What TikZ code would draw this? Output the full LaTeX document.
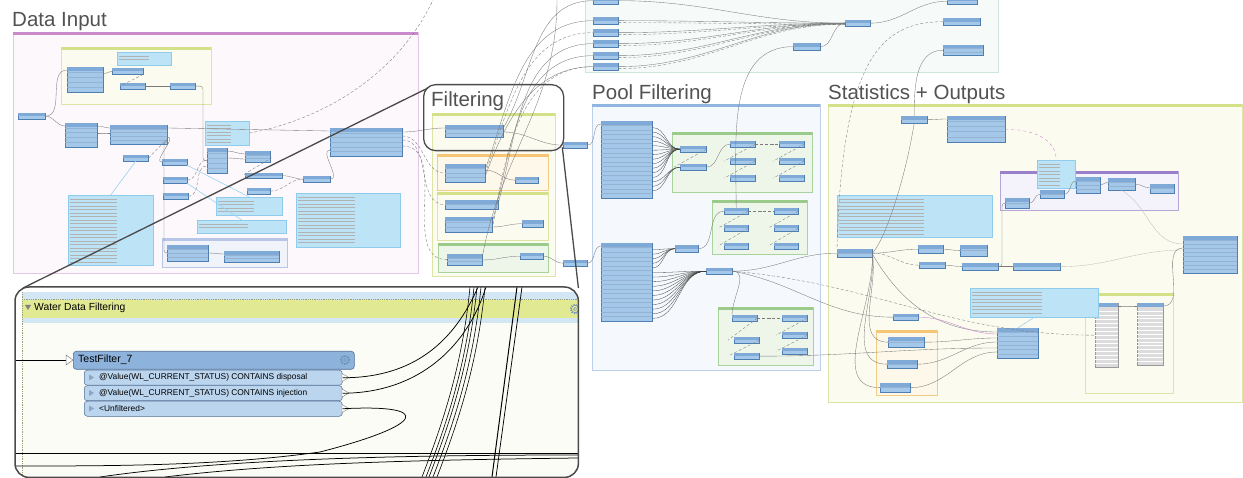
\documentclass[tikz,border=0pt]{standalone}
\usepackage{fontspec}
\setmainfont{Liberation Sans}
\usetikzlibrary{positioning}

\definecolor{titlegray}{HTML}{525252}
\definecolor{xfblue}{HTML}{A4C8EA}
\definecolor{xfhead}{HTML}{7FA9D6}
\definecolor{xfedge}{HTML}{4F7FB0}
\definecolor{notecol}{HTML}{BDE3F7}
\definecolor{noteedge}{HTML}{8FCBEA}
\definecolor{wiregray}{HTML}{7A7A7A}
\definecolor{pinkhead}{HTML}{C98BCB}
\definecolor{pinkfill}{HTML}{FCF8FC}
\definecolor{pinkedge}{HTML}{E6C6E6}
\definecolor{yghead}{HTML}{D3E288}
\definecolor{ygfill}{HTML}{FBFCEF}
\definecolor{ygedge}{HTML}{DCE5A6}
\definecolor{bluehead}{HTML}{8FB5E0}
\definecolor{bluefill}{HTML}{F5F8FC}
\definecolor{blueedge}{HTML}{BCD0EA}
\definecolor{grnhead}{HTML}{9ACB8A}
\definecolor{grnfill}{HTML}{EEF6EA}
\definecolor{grnedge}{HTML}{A9D39C}
\definecolor{purphead}{HTML}{9A7FCB}
\definecolor{purpfill}{HTML}{F4F2FA}
\definecolor{purpedge}{HTML}{B7A6DA}
\definecolor{orghead}{HTML}{F6C676}
\definecolor{orgfill}{HTML}{FDF8EA}
\definecolor{orgedge}{HTML}{F2CB85}
\definecolor{lavhead}{HTML}{B9C5E6}
\definecolor{lavfill}{HTML}{F1F3FA}
\definecolor{topfill}{HTML}{F6FBF9}
\definecolor{topedge}{HTML}{CDE6D8}
\definecolor{greybox}{HTML}{C4C4C4}
\definecolor{callframe}{HTML}{4A4A4A}
\definecolor{wdfhead}{HTML}{E1E993}
\definecolor{wdfstrip}{HTML}{D3E6F4}
\definecolor{wdfbody}{HTML}{FCFCF6}
\definecolor{tfhead}{HTML}{8DB3DD}
\definecolor{tfedge}{HTML}{4E6E96}
\definecolor{tfport}{HTML}{BBD5EE}
\definecolor{gearcol}{HTML}{6F8FB5}
\definecolor{magwire}{HTML}{D08AD6}
\definecolor{notewire}{HTML}{9DD3EE}

\tikzset{
  xf/.style={draw=xfedge, fill=xfblue, line width=0.35pt, inner sep=0pt, anchor=north west},
  xfline/.style={draw=xfedge!60, line width=0.3pt},
  note/.style={draw=noteedge, fill=notecol, line width=0.3pt, inner sep=0pt, anchor=north west},
  notetext/.style={draw=black!30, line width=0.25pt},
  wire/.style={draw=wiregray, line width=0.35pt},
  dwire/.style={wire, dash pattern=on 3pt off 2pt},
  fan/.style={draw=black!75, line width=0.3pt},
  pinkwire/.style={draw=magwire, line width=0.4pt},
  notelink/.style={draw=notewire, line width=0.6pt},
  bigwire/.style={draw=black, line width=0.75pt},
  title/.style={text=titlegray, font=\fontsize{20.5pt}{22pt}\selectfont, anchor=base west, inner sep=0pt},
  zoomline/.style={draw=callframe, line width=1.3pt},
  port/.style={draw=tfedge, fill=tfport, line width=0.5pt, rounded corners=3pt, inner sep=0pt, anchor=north west},
  porttext/.style={font=\fontsize{8.4pt}{9pt}\selectfont, anchor=west, inner sep=0pt},
}

% small transformer box: name, x, y, width, height
\newcommand{\xfb}[5]{%
  \node[xf, minimum width=#4pt, minimum height=#5pt] (#1) at (#2,#3) {};
  \pgfmathsetmacro{\hh}{min(#5/2,3.5)}%
  \fill[xfhead] (#2+0.3,#3+0.3) rectangle ++(#4-0.6,\hh);
}
% transformer with port rows
\newcommand{\xfm}[6]{%
  \xfb{#1}{#2}{#3}{#4}{#5}%
  \foreach \rr in {1,...,#6}{%
    \pgfmathsetmacro{\yy}{#3+#5*\rr/(#6+1)}%
    \draw[xfline] (#2,\yy) -- ++(#4,0);}%
}
% annotation
\newcommand{\fnote}[5]{%
  \node[note, minimum width=#4pt, minimum height=#5pt] (#1) at (#2,#3) {};
  \pgfmathtruncatemacro{\nl}{(#5-3)/3.5}%
  \foreach \rr in {1,...,\nl}{%
    \pgfmathsetmacro{\yy}{#3+0.5+\rr*3.5}%
    \draw[notetext] (#2+2,\yy) -- ++(0.55*#4,0);}%
}
% grey attribute list
\newcommand{\glist}[6]{%
  \node[draw=black!40, fill=greybox!60, line width=0.35pt, inner sep=0pt, anchor=north west,
        minimum width=#4pt, minimum height=#5pt] (#1) at (#2,#3) {};
  \fill[xfhead] (#2,#3) rectangle ++(#4,4);
  \foreach \rr in {1,...,#6}{%
    \pgfmathsetmacro{\yy}{#3+4+(#5-4)*\rr/(#6+1)}%
    \draw[white, line width=0.4pt] (#2,\yy) -- ++(#4,0);}%
}
% bookmark: x1, y1, x2, y2, header, fill, edge
\newcommand{\bmark}[7]{%
  \filldraw[fill=#6, draw=#7, line width=0.5pt] (#1,#2) rectangle (#3,#4);
  \fill[#5] (#1,#2) rectangle (#3,#2+3.5);
}
\newcommand{\gear}[2]{%
  \draw[gearcol, line width=1.1pt, dash pattern=on 1.2pt off 1.3pt] (#1,#2) circle (4.6pt);
  \draw[gearcol, line width=0.5pt] (#1,#2) circle (3.6pt);
  \draw[gearcol, line width=0.5pt] (#1,#2) circle (1.6pt);
}

\begin{document}
\begin{tikzpicture}[x=1pt, y=-1pt]
    \useasboundingbox (0,0) rectangle (1243,478);
    \fill[white] (0,0) rectangle (1243,478);

    % Top panel
    \filldraw[fill=topfill, draw=topedge, line width=0.6pt] (585,-5) rectangle (998,72);

    % Data Input
    \node[title] (tdata) at (12,27) {Data Input};
    \filldraw[fill=pinkfill, draw=pinkedge, line width=0.6pt] (13,32) rectangle (418,273);
    \fill[pinkhead] (13,32) rectangle (418,35.5);
    \bmark{61}{47}{211}{104}{yghead}{ygfill}{ygedge}
    \fnote{dn1}{117}{52}{54}{13}
    \xfb{di1}{18}{113}{27}{6}
    \xfm{di2}{67}{67}{36}{25}{4}
    \xfb{di3}{112}{68}{31}{6}
    \xfb{di4}{120}{83}{25}{6}
    \xfb{di5}{170}{83}{25}{6}
    \xfm{di6}{65}{123}{32}{24}{4}
    \xfm{di7}{110}{125}{57}{19}{4}
    \fnote{dn2}{205}{121}{44}{24}
    \xfb{di8}{123}{155}{25}{6}
    \xfb{di9}{162}{159}{25}{6}
    \xfb{di10}{163}{177}{24}{6}
    \xfb{di11}{163}{193}{25}{6}
    \xfm{di12}{207}{148}{20}{25}{4}
    \xfm{di13}{245}{151}{25}{11}{2}
    \xfb{di14}{245}{173}{37}{5}
    \xfb{di15}{247}{188}{23}{6}
    \xfb{di16}{303}{176}{27}{6}
    \xfm{di17}{330}{128}{72}{28}{5}
    \fnote{dn3}{68}{195}{85}{70}
    \fnote{dn4}{216}{197}{66}{18}
    \fnote{dn5}{197}{220}{89}{13}
    \fnote{dn6}{296}{193}{104}{54}
    \bmark{162}{238}{287}{267}{lavhead}{lavfill}{lavhead}
    \xfm{di18}{167}{245}{41}{16}{3}
    \xfm{di19}{224}{251}{55}{11}{2}
    \coordinate (topexit) at (433,0);
    \coordinate (topexitb) at (557,0);

    \draw[wire] (di1.east) to[out=0,in=180] ([yshift=-3pt]di2.north west);
    \draw[wire] (di1.east) to[out=0,in=180] ([yshift=-3pt]di6.north west);
    \draw[wire] ([yshift=-7pt]di2.north east) to[out=0,in=180] (di3.west);
    \draw[dwire] (di3.south east) -- (di4.west);
    \draw[wire] (di4.east) to[out=0,in=180] (di5.west);
    \draw[wire, rounded corners=3pt] (di5.east) -| ([xshift=-4pt]di12.west) -- (di12.west);
    \draw[wire] ([yshift=-3pt]di6.north east) to[out=0,in=180] ([yshift=-3pt]di7.north west);
    \draw[wire] ([yshift=-10pt]di6.north east) to[out=0,in=180] ([yshift=-8pt]di7.north west);
    \draw[wire] ([yshift=-3pt]di7.north east) -- ([yshift=-3pt]di17.north west);
    \draw[dwire] (di8.east) -- ([yshift=-14pt]di7.north east);
    \draw[wire] ([yshift=-12pt]di7.north east) to[out=0,in=180] (di9.west);
    \draw[wire, rounded corners=3pt] ([yshift=-16pt]di7.north east) -| ([xshift=-3pt]di18.west) -- (di18.west);
    \draw[dwire] (di10.east) to[out=0,in=180] ([yshift=-12pt]di12.north west);
    \draw[dwire] (di11.east) to[out=0,in=180] ([yshift=-18pt]di12.north west);
    \draw[wire] ([yshift=-3pt]di12.north east) to[out=0,in=180] ([yshift=-3pt]di13.north west);
    \draw[wire] ([yshift=-10pt]di12.north east) to[out=0,in=180] ([yshift=-8pt]di13.north west);
    \draw[dwire] (di13.east) to[out=0,in=180, looseness=0.6] (di14.west);
    \draw[wire] (di14.east) to[out=0,in=180] (di16.west);
    \draw[dwire] (di15.east) to[out=0,in=180] (di16.west);
    \draw[wire] (di16.east) to[out=0,in=180] ([yshift=-22pt]di17.north west);
    \draw[wire] ([yshift=-8pt]di18.north east) to[out=0,in=180] ([yshift=-3pt]di19.north west);
    \draw[dwire] (dn2.east) .. controls (330,118) and (400,70) .. (topexit);
    \draw[notelink] (dn3.north) -- (di8.south);
    \draw[notelink] (di9.south east) -- (dn4.north);
    \draw[notelink] (di10.south east) -- (dn5.north);

    % Filtering
    \node[title] (tfilt) at (431,107) {Filtering};
    \filldraw[fill=ygfill, draw=ygedge, line width=0.6pt] (432,113) rectangle (555,276);
    \fill[yghead] (432,113) rectangle (555,116.5);
    \xfm{fb1}{445}{125}{58}{12}{2}
    \bmark{437}{154}{548}{190}{orghead}{orgfill}{orgedge}
    \xfm{fb2}{445}{164}{40}{18}{3}
    \xfb{fb3}{515}{177}{23}{6}
    \bmark{437}{192}{548}{240}{yghead}{ygfill}{ygedge}
    \xfm{fb4}{445}{200}{53}{9}{1}
    \xfm{fb5}{445}{217}{47}{15}{2}
    \xfb{fb6}{522}{220}{21}{7}
    \bmark{438}{243}{548}{272}{grnhead}{grnfill}{grnedge}
    \xfm{fb7}{447}{254}{35}{11}{2}
    \xfb{fb8}{520}{253}{23}{6}
    \xfb{fo1}{563}{142}{24}{6}
    \xfb{fo2}{563}{260}{24}{6}

    \draw[wire] ([yshift=-4pt]di17.north east) to[out=0,in=180] ([yshift=-3pt]fb1.north west);
    \draw[dwire] ([yshift=-8pt]di17.north east) to[out=0,in=180] (fb2.west);
    \draw[dwire] ([yshift=-12pt]di17.north east) to[out=0,in=180] (fb4.west);
    \draw[dwire] ([yshift=-18pt]di17.north east) to[out=0,in=180] (fb7.west);
    \draw[wire] ([yshift=-7pt]fb1.north east) to[out=0,in=180] (fo1.west);
    \draw[wire] ([yshift=-6pt]fb2.north east) to[out=0,in=180] (fb3.west);
    \draw[wire] ([yshift=-10pt]fb5.north east) to[out=0,in=180] (fb6.west);
    \draw[wire] ([yshift=-6pt]fb7.north east) to[out=0,in=180] (fb8.west);
    \draw[wire] (fb8.east) to[out=0,in=180] (fo2.west);

    % Top panel nodes
    \foreach \i/\ty in {0/-3,1/17,2/29,3/40,4/52,5/63} {\xfb{tp\i}{593}{\ty}{25}{7}}
    \xfb{tp6}{845}{20}{25}{6}
    \xfb{tp7}{793}{43}{27}{7}
    \xfb{tp8}{947}{-2}{30}{6}
    \xfb{tp9}{943}{18}{37}{7}
    \xfm{tp10}{943}{45}{40}{10}{2}

    \foreach \i in {0,...,5} \draw[wire] (tp\i.east) to[out=0,in=180] (tp6.west);
    \foreach \i in {1,...,5} \draw[dwire] ([yshift=-2pt]tp\i.east) to[out=0,in=180] ([yshift=-1pt]tp6.west);
    \draw[wire] (tp7.east) to[out=0,in=180] (tp6.west);
    \draw[wire] (tp6.east) to[out=0,in=180] (tp8.west);
    \draw[wire] ([yshift=-3pt]fb1.north east) to[out=60,in=180] (tp0.west);
    \draw[wire] ([yshift=-5pt]fb2.north east) to[out=70,in=180] (tp1.west);
    \draw[dwire] ([yshift=-9pt]fb2.north east) to[out=70,in=180] (tp2.west);
    \draw[wire] ([yshift=-3pt]fb4.north east) to[out=75,in=180] (tp3.west);
    \draw[wire] ([yshift=-5pt]fb5.north east) to[out=75,in=180] (tp4.west);
    \draw[dwire] ([yshift=-12pt]fb5.north east) to[out=80,in=180] (tp5.west);
    \draw[wire] ([yshift=-3pt]fb7.north east) to[out=80,in=270] (topexitb);
    \draw[wire] ([yshift=-12pt]fb2.north east) to[out=70,in=180] (tp5.west);

    % Pool Filtering
    \node[title] (tpool) at (592,100) {Pool Filtering};
    \filldraw[fill=bluefill, draw=blueedge, line width=0.6pt] (592,104) rectangle (820,370);
    \fill[bluehead] (592,104) rectangle (820,107.5);
    \xfm{pf1}{601}{121}{51}{77}{16}
    \xfm{pf2}{601}{243}{51}{78}{16}
    \bmark{672}{132}{812}{192}{grnhead}{grnfill}{grnedge}
    \xfb{pg1}{680}{146}{26}{6}
    \xfb{pg2}{680}{164}{26}{6}
    \foreach \i/\px/\py in {3/730/141,4/730/158,5/730/175,6/779/141,7/779/158,8/779/175} {\xfb{pg\i}{\px}{\py}{25}{6}}
    \bmark{712}{200}{807}{254}{grnhead}{grnfill}{grnedge}
    \foreach \i/\px/\py in {1/724/208,2/724/225,3/724/243,4/774/208,5/774/225,6/774/243} {\xfb{ph\i}{\px}{\py}{24}{6}}
    \xfb{pn1}{675}{245}{23}{7}
    \xfb{pn2}{706}{268}{26}{6}
    \bmark{718}{307}{813}{365}{grnhead}{grnfill}{grnedge}
    \foreach \i/\px/\py in {1/732/315,2/782/315,3/734/337,4/782/332,5/734/353,6/782/348} {\xfb{pk\i}{\px}{\py}{25}{6}}

    \draw[wire] (fo1.east) to[out=0,in=180] ([yshift=-3pt]pf1.north west);
    \draw[wire] (fo2.east) to[out=0,in=180] ([yshift=-3pt]pf2.north west);
    \foreach \k in {1,...,12} {\pgfmathsetmacro{\sy}{77*\k/17+2}
      \draw[fan] ([yshift=-\sy pt]pf1.north east) to[out=0,in=180] (pg1.west);}
    \foreach \k in {13,...,15} {\pgfmathsetmacro{\sy}{77*\k/17+2}
      \draw[fan] ([yshift=-\sy pt]pf1.north east) to[out=0,in=180] (pg2.west);}
    \foreach \k in {1,...,5} {\pgfmathsetmacro{\sy}{78*\k/17+2}
      \draw[fan] ([yshift=-\sy pt]pf2.north east) to[out=0,in=180] (pn1.west);}
    \foreach \k in {6,...,16} {\pgfmathsetmacro{\sy}{78*\k/17+2}
      \draw[fan] ([yshift=-\sy pt]pf2.north east) to[out=0,in=180] (pn2.west);}
    \draw[dwire] (pg1.east) -- ([xshift=-6pt]pg2.west);
    \draw[wire] (pg2.east) to[out=0,in=180] (pg3.west);
    \draw[dwire] (pg3.east) to[out=0,in=180] (pg6.west);
    \draw[dwire] (pg3.east) -- ([xshift=-6pt]pg4.west);
    \draw[dwire] (pg4.east) -- ([xshift=-6pt]pg5.west);
    \draw[dwire] (pg6.east) -- ([xshift=-6pt]pg7.west);
    \draw[dwire] (pg7.east) -- ([xshift=-6pt]pg8.west);
    \draw[wire] (pn1.east) to[out=0,in=180] (ph1.west);
    \draw[dwire] (ph1.east) to[out=0,in=180] (ph4.west);
    \draw[dwire] (ph1.east) -- ([xshift=-6pt]ph2.west);
    \draw[dwire] (ph2.east) -- ([xshift=-6pt]ph3.west);
    \draw[dwire] (ph4.east) -- ([xshift=-6pt]ph5.west);
    \draw[dwire] (ph5.east) -- ([xshift=-6pt]ph6.west);
    \draw[wire] (tp7.west) to[out=180,in=90] (ph1.north);
    \draw[wire] (pn2.east) to[out=0,in=90] (pk1.north west);
    \draw[dwire] (pk1.east) to[out=0,in=180] (pk2.west);
    \draw[dwire] (pk1.east) -- ([xshift=-6pt]pk3.west);
    \draw[dwire] (pk3.east) -- ([xshift=-6pt]pk5.west);
    \draw[dwire] (pk2.east) -- ([xshift=-6pt]pk4.west);
    \draw[dwire] (pk4.east) -- ([xshift=-6pt]pk6.west);

    % Statistics + Outputs
    \node[title] (tstats) at (828,100) {Statistics + Outputs};
    \filldraw[fill=ygfill, draw=ygedge, line width=0.6pt] (828,104) rectangle (1242,402);
    \fill[yghead] (828,104) rectangle (1242,107.5);
    \xfb{st1}{901}{116}{26}{7}
    \xfm{st2}{947}{116}{58}{26}{4}
    \bmark{1000}{171}{1178}{210}{purphead}{purpfill}{purpedge}
    \xfm{su1}{1005}{198}{24}{10}{1}
    \xfm{su2}{1040}{190}{24}{8}{1}
    \xfm{su3}{1076}{177}{24}{16}{3}
    \xfm{su4}{1108}{178}{27}{12}{2}
    \xfm{su5}{1150}{184}{24}{9}{1}
    \fnote{sn1}{1037}{160}{38}{28}
    \fnote{sn2}{837}{195}{155}{42}
    \xfm{st3}{837}{249}{35}{8}{1}
    \xfb{st4}{918}{245}{25}{8}
    \xfb{st5}{919}{262}{26}{6}
    \xfm{st6}{960}{245}{27}{11}{1}
    \xfb{st7}{962}{263}{36}{7}
    \xfb{st8}{1013}{263}{47}{7}
    \xfm{st9}{1183}{236}{54}{37}{8}
    \bmark{1085}{293}{1173}{393}{yghead}{ygfill}{ygedge}
    \glist{sg1}{1095}{303}{23}{64}{14}
    \glist{sg2}{1137}{303}{26}{62}{14}
    \bmark{876}{330}{937}{395}{orghead}{orgfill}{orgedge}
    \xfm{so1}{888}{337}{36}{10}{1}
    \xfm{so2}{887}{360}{30}{8}{1}
    \xfm{so3}{880}{383}{30}{9}{1}
    \xfb{st10}{893}{314}{25}{6}
    \xfm{st11}{997}{328}{41}{30}{6}

    \draw[wire] (tp10.west) to[out=180,in=90] (st1.north);
    \draw[dwire] (tp9.west) .. controls (880,22) and (842,60) .. (st3.north west);
    \draw[wire] (st1.east) to[out=0,in=180] ([yshift=-3pt]st2.north west);
    \draw[wire] (st1.south) .. controls (905,180) and (885,240) .. (st3.east);
    \draw[pinkwire, dashed] (st2.east) to[out=0,in=90] (sn1.north);
    \draw[wire] (su1.east) to[out=0,in=180] (su2.west);
    \draw[wire] (su2.east) to[out=0,in=180] ([yshift=-4pt]su3.north west);
    \draw[wire] (su3.east) to[out=0,in=180] ([yshift=-4pt]su4.north west);
    \draw[wire] (su4.east) to[out=0,in=180] ([yshift=-4pt]su5.north west);
    \draw[wire, black!25] (su4.south) to[out=-30,in=180] ([yshift=-8pt]st9.north west);
    \draw[wire] (st3.east) to[out=0,in=180] (st4.west);
    \draw[dwire] (st3.east) to[out=0,in=180] (st5.west);
    \draw[wire] (st4.east) to[out=0,in=180] (st6.west);
    \draw[wire] (st5.east) to[out=0,in=180] (st7.west);
    \draw[wire] (st7.east) to[out=0,in=180] (st8.west);
    \draw[wire, rounded corners=3pt] (st7.east) -| ([xshift=-3pt]su1.west) -- (su1.west);
    \draw[wire, black!25] (st8.east) to[out=0,in=180] ([yshift=-14pt]st9.north west);
    \draw[wire] ([yshift=-3pt]sg1.north east) to[out=0,in=180] ([yshift=-3pt]sg2.north west);
    \draw[wire] ([yshift=-3pt]sg2.north east) to[out=0,in=180] ([yshift=-12pt]st9.north west);
    \draw[wire] ([yshift=-5pt]st3.north east) to[out=-80,in=180] (so1.west);
    \draw[wire] ([yshift=-5pt]st3.north east) to[out=-85,in=180] (so2.west);
    \draw[wire] ([yshift=-5pt]st3.north east) to[out=-88,in=180] (so3.west);
    \draw[wire] ([yshift=-5pt]st3.north east) to[out=-60,in=180] ([yshift=-4pt]st11.north west);
    \draw[wire] (so1.east) to[out=0,in=180] ([yshift=-10pt]st11.north west);
    \draw[wire] (so2.east) to[out=0,in=180] ([yshift=-14pt]st11.north west);
    \draw[wire] (so3.east) to[out=0,in=180] ([yshift=-24pt]st11.north west);
    \draw[pinkwire] (st10.east) to[out=0,in=180] ([yshift=-6pt]st11.north west);
    \draw[wire] (pn2.east) to[out=0,in=180] (st3.west);
    \draw[dwire] (pn2.east) to[out=-5,in=180] (sg1.west);
    \draw[wire] (pn2.east) to[out=-10,in=180] (st10.west);
    \draw[wire] (pk5.east) to[out=0,in=180] ([yshift=-20pt]st11.north west);
    \fnote{sn3}{970}{288}{128}{29}
    \draw[notelink] (sn3.south) -- (st11.north);

    % Zoom frame on Filtering
    \node[draw=callframe, line width=1.3pt, rounded corners=12pt, minimum width=140pt,
          minimum height=66pt, anchor=north west, inner sep=0pt] (zbox) at (423,84) {};

    % Enlarged view
    \node[minimum width=563pt, minimum height=190pt, anchor=north west, inner sep=0pt] (zoomed) at (15,287) {};
    \begin{scope}
      \clip[rounded corners=14pt] (zoomed.north west) rectangle (zoomed.south east);
      \fill[white] (15,287) rectangle (578,477);
      \fill[wdfstrip] (22,292) rectangle (578,300);
      \fill[wdfhead] (22,300) rectangle (578,318);
      \fill[wdfstrip] (22,318) rectangle (578,323);
      \fill[wdfbody] (22,323) rectangle (578,477);
      \draw[ygedge!70!black, densely dotted, line width=0.8pt] (22,292) -- (22,477);
      \draw[ygedge!70!black, densely dotted, line width=0.8pt] (22,299.5) -- (578,299.5);
      \fill[gray] (25,305) -- (31,305) -- (28,310) -- cycle;
      \node[font=\fontsize{10.3pt}{12pt}\selectfont, anchor=base west, inner sep=0pt] (wdftitle) at (34,311) {Water Data Filtering};
      \gear{575}{309}

      % TestFilter
      \coordinate (wdfleft) at (15,360);
      \coordinate (tfin) at (66,360);
      \draw[bigwire] (wdfleft) -- (tfin);
      \node[draw=tfedge, fill=tfhead, line width=0.6pt, rounded corners=3pt, minimum width=281pt,
            minimum height=18pt, anchor=north west, inner sep=0pt] (tf7) at (73,351) {};
      \node[font=\fontsize{10.5pt}{12pt}\selectfont, anchor=west, inner sep=0pt] (tf7label) at (78,360) {TestFilter\_7};
      \gear{345}{360}
      \filldraw[fill=white, draw=gray, line width=0.5pt] (66,355) -- (73,360) -- (66,365) -- cycle;
      \node[port, minimum width=258pt, minimum height=15pt] (pdisp) at (84,370) {};
      \node[port, minimum width=258pt, minimum height=15pt] (pinj) at (84,385.5) {};
      \node[port, minimum width=258pt, minimum height=15pt] (punf) at (84,401) {};
      \node[porttext] (ldisp) at (99,377.5) {@Value(WL\_CURRENT\_STATUS) CONTAINS disposal};
      \node[porttext] (linj) at (99,393) {@Value(WL\_CURRENT\_STATUS) CONTAINS injection};
      \node[porttext] (lunf) at (99,408.5) {<Unfiltered>};
      \foreach \py in {377.5,393,408.5} {
        \fill[gearcol!80] (89,\py-3) -- (94,\py) -- (89,\py+3) -- cycle;
        \filldraw[fill=white, draw=gray, line width=0.4pt] (342,\py-4) -- (349,\py) -- (342,\py+4) -- cycle;
      }

      % connectors leaving the filter
      \coordinate (wA) at (478,287);
      \coordinate (wB) at (486,287);
      \coordinate (wC) at (15,466);
      \coordinate (wD) at (15,453);
      \coordinate (wE) at (578,453);
      \coordinate (wF) at (100,477);
      \coordinate (wG) at (578,455);
      \coordinate (wH) at (165,477);
      \coordinate (wI) at (578,458);
      \draw[bigwire] (pdisp.east) .. controls (415,378) and (455,340) .. (wA);
      \draw[bigwire] (pinj.east) .. controls (420,393) and (468,345) .. (wB);
      \draw[bigwire] (punf.east) .. controls (435,404) and (425,425) .. (320,452) .. controls (220,466) and (110,466) .. (wC);
      \draw[bigwire] (wD) -- (wE);
      \draw[bigwire] (wF) .. controls (230,458) and (420,455) .. (wG);
      \draw[bigwire] (wH) .. controls (280,463) and (420,460) .. (wI);
      \foreach \dx [count=\n] in {0,4,7,11,15} {
        \coordinate (bt\n) at (470+\dx,287);
        \coordinate (bb\n) at (422+\dx,477);
        \draw[bigwire, line width=0.6pt] (bt\n) .. controls +(-8,83) and +(18,-47) .. (bb\n);
      }
      \coordinate (ct1) at (517,287);
      \coordinate (cb1) at (492,477);
      \coordinate (ct2) at (522,287);
      \coordinate (cb2) at (496,477);
      \draw[bigwire, line width=1pt] (ct1) -- (cb1);
      \draw[bigwire] (ct2) -- (cb2);
    \end{scope}
    \draw[draw=callframe, line width=1.5pt, rounded corners=14pt] (zoomed.north west) rectangle (zoomed.south east);

    % Zoom lines
    \draw[zoomline] ([xshift=5pt,yshift=-4pt]zbox.north west) -- ([xshift=8pt,yshift=-1pt]zoomed.north west);
    \draw[zoomline] ([xshift=-2pt,yshift=4pt]zbox.south east) -- ([yshift=-1pt]zoomed.north east);

\end{tikzpicture}
\end{document}
